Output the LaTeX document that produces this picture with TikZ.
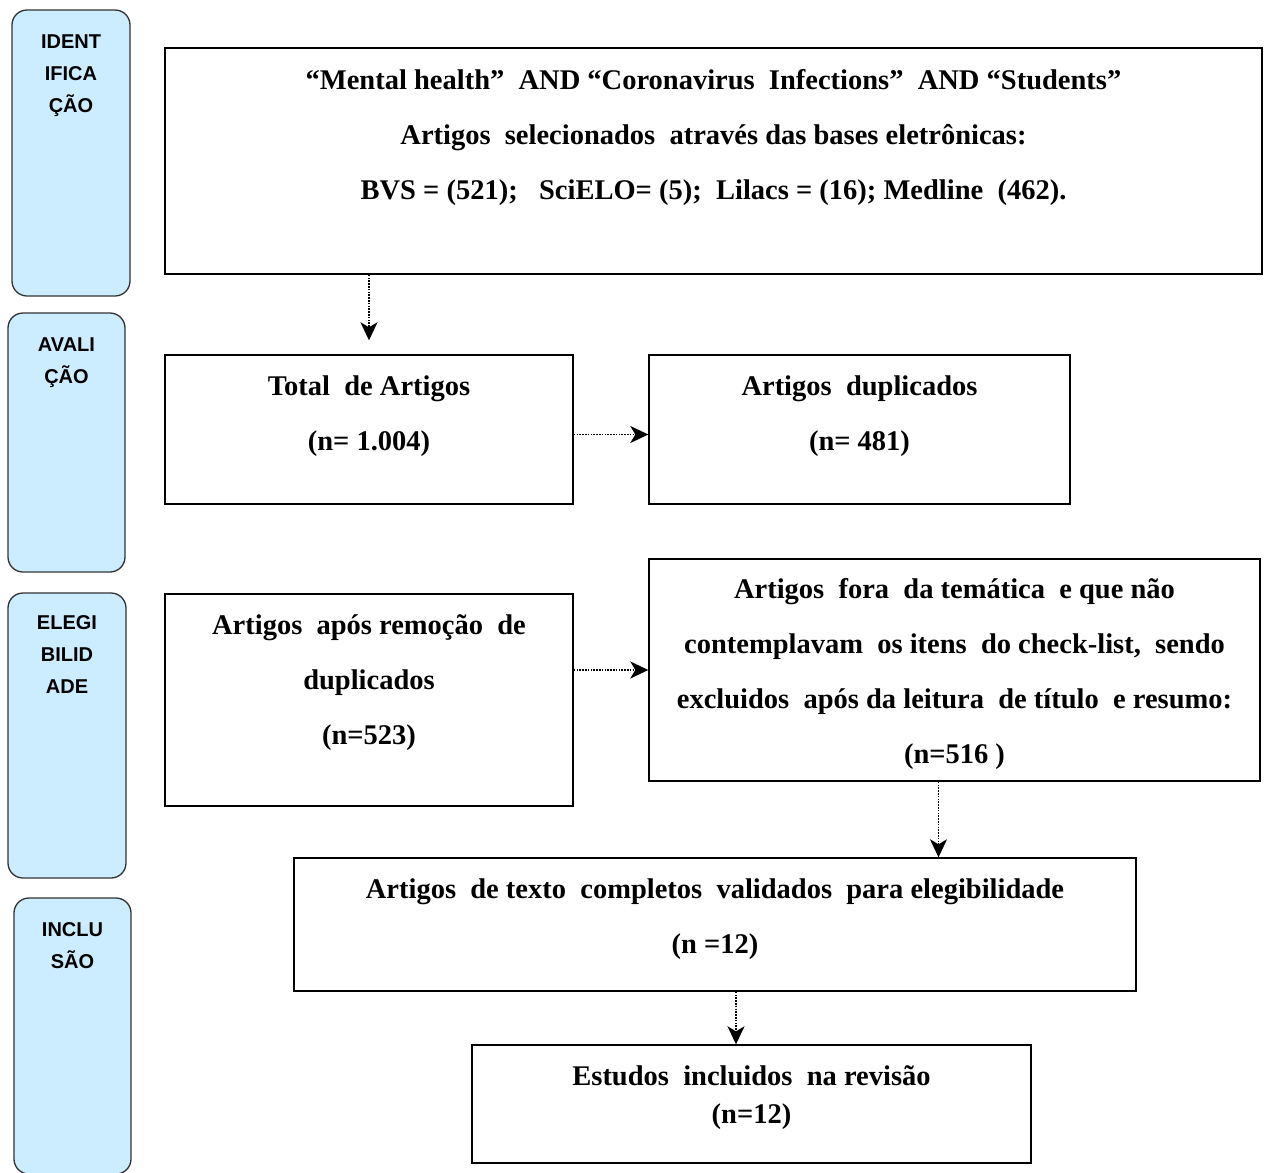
\documentclass[tikz,border=0pt]{standalone}
\usepackage{fontspec}
\setmainfont{Liberation Serif}
\setsansfont{Liberation Sans}
\usepackage{tikz}
\usetikzlibrary{positioning, arrows.meta}
\definecolor{fasebg}{HTML}{CCECFF}
\tikzset{
fase/.style={draw=black!80, fill=fasebg, rounded corners=15pt, line width=1.3pt}, % the blue phase columns
fasetxt/.style={font=\sffamily\bfseries\fontsize{20}{32}\selectfont, align=center, inner sep=0pt}, % text of the columns
caixa/.style={draw, line width=1.4pt}, % the boxes of the flow
caixatxt/.style={font=\bfseries\fontsize{28.5}{55}\selectfont, align=center, inner sep=0pt}, % text of the boxes
seta/.style={-{Stealth[length=18pt, width=17pt, inset=5pt]}, dash pattern=on 1.6pt off 1.2pt, line width=1.8pt}, % connectors with bold heads
}
\begin{document}
\begin{tikzpicture}[x=1pt, y=-1pt]
            \useasboundingbox (0,0) rectangle (1267,1173);

            % phase columns
            \node[fase, minimum width=118pt, minimum height=286pt] (ident) at (71,153) {};
            \node[fase, minimum width=117pt, minimum height=259pt] (aval) at (66.5,442.5) {};
            \node[fase, minimum width=118pt, minimum height=285pt] (elegi) at (67,735.5) {};
            \node[fase, minimum width=117pt, minimum height=276pt] (inclu) at (72.5,1036) {};
            \node[fasetxt, below=25pt of ident.north] (identtxt) {IDENT\\IFICA\\ÇÃO};
            \node[fasetxt, below=25pt of aval.north] (avaltxt) {AVALI\\ÇÃO};
            \node[fasetxt, below=23pt of elegi.north] (elegitxt) {ELEGI\\BILID\\ADE};
            \node[fasetxt, below=25pt of inclu.north] (inclutxt) {INCLU\\SÃO};

            % boxes
            \node[caixa, minimum width=1097pt, minimum height=226pt] (busca) at (713.5,161) {};
            \node[caixa, minimum width=408pt, minimum height=149pt] (total) at (369,429.5) {};
            \node[caixa, minimum width=421pt, minimum height=149pt] (dup) at (859.5,429.5) {};
            \node[caixa, minimum width=408pt, minimum height=212pt] (apos) at (369,700) {};
            \node[caixa, minimum width=611pt, minimum height=222pt] (fora) at (954.5,670) {};
            \node[caixa, minimum width=842pt, minimum height=133pt] (texto) at (715,924.5) {};
            \node[caixa, minimum width=559pt, minimum height=118pt] (incl) at (751.5,1104) {};

            \node[caixatxt, below=22pt of busca.north] (buscatxt) {“Mental health” \ AND “Coronavirus \ Infections” \ AND “Students”\\
                Artigos \ selecionados \ através das bases eletrônicas:\\
                BVS = (521); \ \ SciELO= (5); \ Lilacs = (16); Medline \ (462).};
            \node[caixatxt, below=21pt of total.north] (totaltxt) {Total \ de Artigos\\(n= 1.004)};
            \node[caixatxt, below=21pt of dup.north] (duptxt) {Artigos \ duplicados\\(n= 481)};
            \node[caixatxt, below=21pt of apos.north] (apostxt) {Artigos \ após remoção \ de\\duplicados\\(n=523)};
            \node[caixatxt, below=20pt of fora.north] (foratxt) {Artigos \ fora \ da temática \ e que não\\
                contemplavam \ os itens \ do check-list, \ sendo\\
                excluidos \ após da leitura \ de título \ e resumo:\\(n=516 )};
            \node[caixatxt, below=21pt of texto.north] (textotxt) {Artigos \ de texto \ completos \ validados \ para elegibilidade\\(n =12)};
            \node[caixatxt, below=21pt of incl.north, font=\bfseries\fontsize{28.5}{38}\selectfont] (incltxt) {Estudos \ incluidos \ na revisão\\(n=12)};

            % connectors
            \draw[seta, shorten >=14pt] (busca.south -| total.north) -- (total.north);
            \draw[seta] ([yshift=-5pt]total.east) -- ([yshift=-5pt]total.east -| dup.west);
            \draw[seta] (apos.east |- fora.west) -- (fora.west);
            \draw[seta] ([xshift=-16pt]fora.south) -- ([xshift=-16pt]fora.south |- texto.north);
            \draw[seta] ([xshift=21pt]texto.south) -- ([xshift=21pt]texto.south |- incl.north);
        \end{tikzpicture}
\end{document}
